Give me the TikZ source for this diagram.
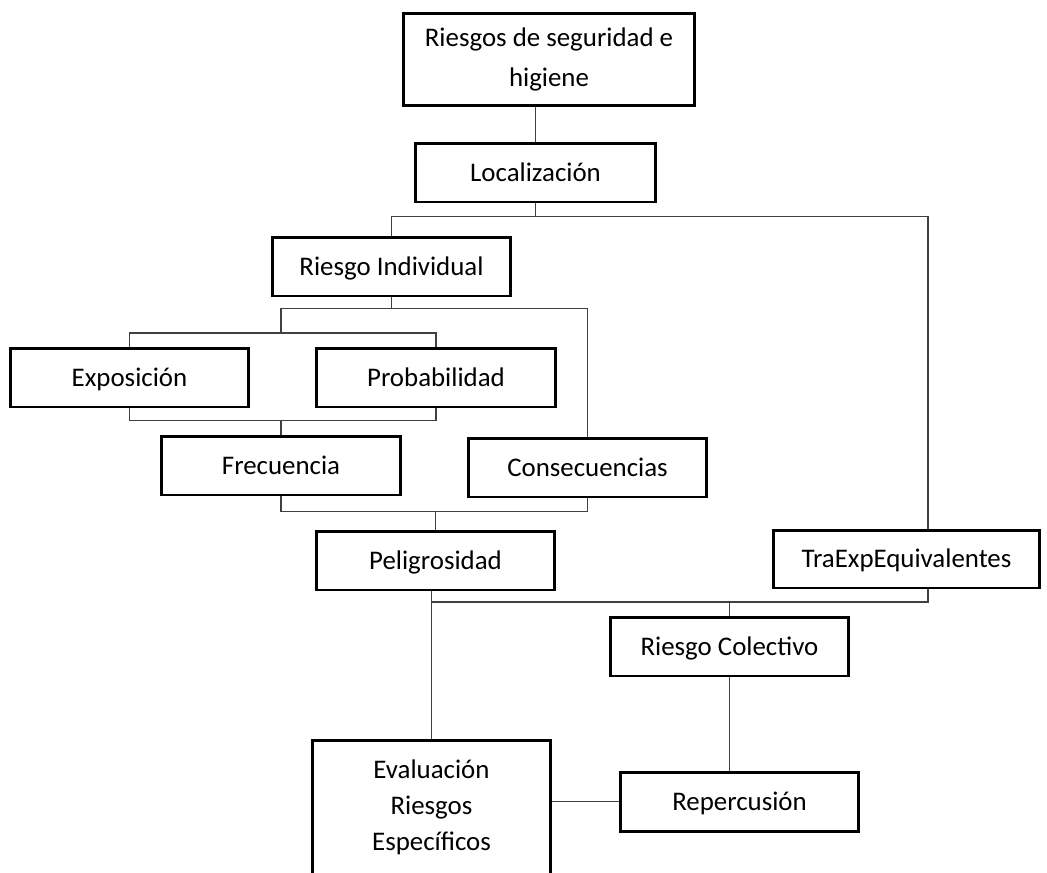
\documentclass[tikz,border=0pt]{standalone}
\usepackage{fontspec}
\setmainfont{Carlito}
\tikzset{
    caja/.style={draw,line width=1.7pt,minimum width=4.78cm,minimum height=1.18cm,
        inner sep=0pt,align=center,text height=12pt,text depth=2pt,
        font=\fontsize{15.3}{22.6}\selectfont},
    varias/.style={text height=,text depth=},
    enlace/.style={draw=black!75,line width=0.8pt},
}
\begin{document}
\begin{tikzpicture}[x=0.02cm,y=-0.02cm]
            \clip (0,0) rectangle (1047,872);
            \path
            (549,59.5) node[caja,varias,minimum width=5.84cm,minimum height=1.86cm] (rsh) {Riesgos de seguridad e\\higiene}
            (535.5,172.5) node[caja,minimum width=4.82cm] (loc) {Localización}
            (391.5,266.5) node[caja] (ri) {Riesgo Individual}
            (129.5,377.5) node[caja] (exp) {Exposición}
            (436,377.5) node[caja,minimum width=4.8cm] (prob) {Probabilidad}
            (281,465.5) node[caja,minimum width=4.8cm] (frec) {Frecuencia}
            (587.5,467.5) node[caja] (cons) {Consecuencias}
            (435.5,560.5) node[caja] (pel) {Peligrosidad}
            (906.5,559) node[caja,minimum width=5.34cm,minimum height=1.16cm] (tra) {TraExpEquivalentes}
            (729.5,646.5) node[caja] (rc) {Riesgo Colectivo}
            (739.5,801.5) node[caja] (rep) {Repercusión}
            (431.5,807.5) node[caja,varias,minimum height=2.7cm,font=\fontsize{15.3}{20.4}\selectfont] (eva) {Evaluación\\Riesgos\\Específicos}
            ;
            % puntos de reparto
            \coordinate (b3) at (281,333);
            \coordinate (b6) at (432,602);
            \draw[enlace] (loc.north) -- (loc.north |- rsh.south);
            \draw[enlace] (loc.south) -- ++(0,13) coordinate (b1);
            \draw[enlace] (ri.north) |- (b1) -| ([xshift=0.43cm]tra.north);
            \draw[enlace] (ri.south) -- ++(0,11) coordinate (b2);
            \draw[enlace] (b3) |- (b2) -| (cons.north);
            \draw[enlace] (exp.north) |- (b3) -| (prob.north);
            \draw[enlace] (frec.north) -- ++(0,-14) coordinate (b4);
            \draw[enlace] (exp.south) |- (b4) -| (prob.south);
            \draw[enlace] (pel.north) -- ++(0,-18) coordinate (b5);
            \draw[enlace] (frec.south) |- (b5) -| (cons.south);
            \draw[enlace] (eva.north) -- (eva.north |- pel.south);
            \draw[enlace] (b6) -| ([xshift=0.43cm]tra.south);
            \draw[enlace] (rc.north) -- (rc.north |- b6);
            \draw[enlace] (rc.south) -- (rc.south |- rep.north);
            \draw[enlace] (rep.west) -- (rep.west -| eva.east);
        \end{tikzpicture}
\end{document}
